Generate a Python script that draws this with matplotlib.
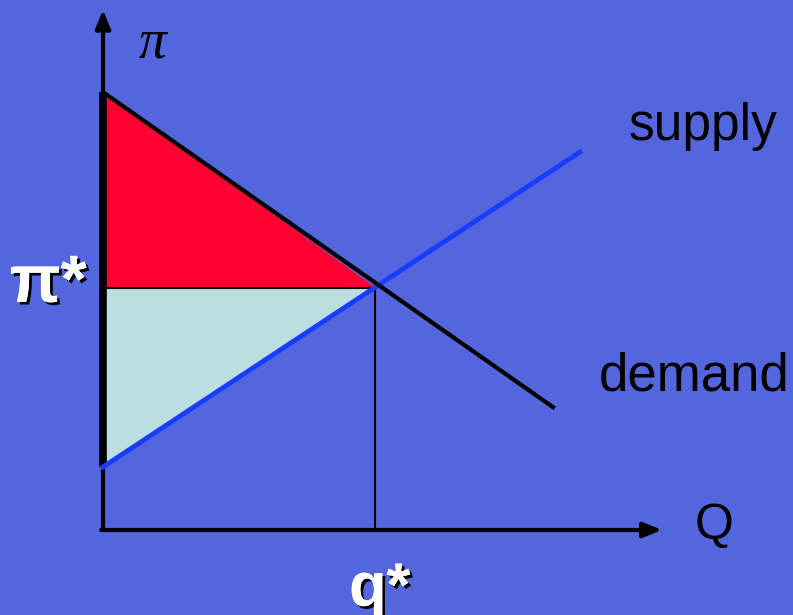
import matplotlib
matplotlib.use("Agg")
import matplotlib.pyplot as plt
import matplotlib.patheffects as pe

# Data (economic units)
demand_q = [0.0, 10.0]
demand_p = [9.73, 2.73]
supply_q = [0.0, 10.6]
supply_p = [1.40, 8.40]
q_star = 6.04
p_star = 5.38
axis_q_max = 12.42
axis_p_max = 11.56

BG = "#5366DD"
fig = plt.figure(figsize=(7.93, 6.15), dpi=100, facecolor=BG)
ax = fig.add_axes([0, 0, 1, 1])
ax.set_facecolor(BG)
ax.set_xlim(-103 / 45, 690 / 45)
ax.set_ylim(-85 / 45, 530 / 45)
ax.axis("off")

# Consumer surplus (red) and producer surplus (light blue)
ax.fill([0, 0, q_star], [demand_p[0], p_star, p_star], color="#FF0030", zorder=1)
ax.fill([0, 0, q_star], [p_star, supply_p[0], p_star], color="#BBDEE1", zorder=1)
ax.plot([0, q_star], [p_star, p_star], color="black", lw=1.5, zorder=2)
ax.plot([q_star, q_star], [p_star, 0], color="black", lw=1.5, zorder=2)

# Axes with arrows
ax.annotate("", xy=(0, axis_p_max), xytext=(0, 0),
            arrowprops=dict(arrowstyle="-|>,head_length=1.1,head_width=0.45", color="black", lw=3, shrinkA=0, shrinkB=0), zorder=3)
ax.annotate("", xy=(axis_q_max, 0), xytext=(-0.04, 0),
            arrowprops=dict(arrowstyle="-|>,head_length=1.1,head_width=0.45", color="black", lw=3, shrinkA=0, shrinkB=0), zorder=3)
ax.plot([0, 0], [supply_p[0], demand_p[0]], color="black", lw=5.5, solid_capstyle="butt", zorder=3)

# Curves
ax.plot(supply_q, supply_p, color="#1A3CFF", lw=3.5, zorder=4)
ax.plot(demand_q, demand_p, color="black", lw=3, zorder=5)

# Labels
ax.text(1.11, 10.8, "π", fontsize=40, family="Liberation Serif", style="italic", ha="center", va="center")
ax.text(13.33, 8.67, "supply", fontsize=37, family="Liberation Sans", ha="center", va="baseline")
ax.text(13.13, 3.11, "demand", fontsize=38, family="Liberation Sans", ha="center", va="baseline")
ax.text(13.58, -0.2, "Q", fontsize=36, family="Liberation Sans", ha="center", va="baseline")

shadow = [pe.withSimplePatchShadow(offset=(2, -2), shadow_rgbFace="black", alpha=1.0), pe.Normal()]
ax.text(-1.22, 5.45, "π*", fontsize=48, family="Liberation Sans", fontweight="bold",
        color="white", ha="center", va="center", path_effects=shadow)
ax.text(6.15, -1.68, "q*", fontsize=44, family="Liberation Sans", fontweight="bold",
        color="white", ha="center", va="baseline", path_effects=shadow)

fig.savefig("out.png", dpi=100, facecolor=BG)
